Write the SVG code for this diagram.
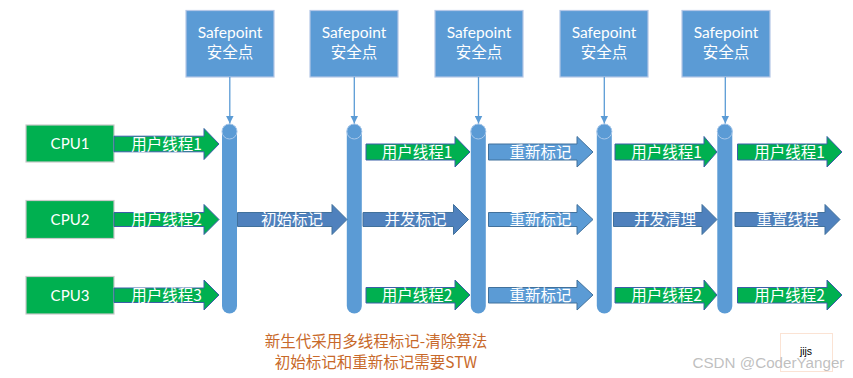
<svg xmlns="http://www.w3.org/2000/svg" width="853" height="378" viewBox="0 0 853 378">
<defs>
<style>
.sp{fill:#5B9BD5;stroke:#B4C7E7;stroke-width:1.2}
.sptxt{font-family:Lato,"Noto Sans CJK SC",sans-serif;font-size:15.5px;fill:#fff;text-anchor:middle}
.cpu{fill:#00B050;stroke:#C9C9C9;stroke-width:1.2}
.cputxt{font-family:Lato,"Noto Sans CJK SC",sans-serif;font-size:15px;fill:#fff;text-anchor:middle}
.bar{fill:#5B9BD5}
.cap{fill:#5B9BD5;stroke:#A9C8EA;stroke-width:1}
.g{fill:#00B050;stroke:#3B5FA8;stroke-width:1}
.b1{fill:#4F81BD;stroke:#41719C;stroke-width:1}
.b2{fill:#5B9BD5;stroke:#41719C;stroke-width:1}
.atxt{font-family:"Noto Sans CJK SC",Lato,sans-serif;font-size:15.5px;fill:#fff;text-anchor:middle}
.conn{stroke:#5B9BD5;stroke-width:1.3;fill:none}
.note{font-family:"Noto Sans CJK SC",Lato,sans-serif;font-size:15.5px;fill:#C8692A;text-anchor:middle}
</style>
<marker id="ah" viewBox="0 0 10 10" refX="10" refY="5" markerWidth="8" markerHeight="8" markerUnits="userSpaceOnUse" orient="auto">
<path d="M0,0 L10,5 L0,10 Z" fill="#5B9BD5"/>
</marker>
</defs>
<rect width="853" height="378" fill="#fff"/>

<g id="safepoint1"><rect class="sp" x="186" y="10.5" width="88" height="66.5"/><text class="sptxt" x="230" y="38">Safepoint</text><text class="sptxt" x="230" y="58">安全点</text></g>
<g id="safepoint2"><rect class="sp" x="310" y="10.5" width="88" height="66.5"/><text class="sptxt" x="354" y="38">Safepoint</text><text class="sptxt" x="354" y="58">安全点</text></g>
<g id="safepoint3"><rect class="sp" x="435" y="10.5" width="88" height="66.5"/><text class="sptxt" x="479" y="38">Safepoint</text><text class="sptxt" x="479" y="58">安全点</text></g>
<g id="safepoint4"><rect class="sp" x="560" y="10.5" width="88" height="66.5"/><text class="sptxt" x="604" y="38">Safepoint</text><text class="sptxt" x="604" y="58">安全点</text></g>
<g id="safepoint5"><rect class="sp" x="682" y="10.5" width="88" height="66.5"/><text class="sptxt" x="726" y="38">Safepoint</text><text class="sptxt" x="726" y="58">安全点</text></g>

<g id="cpu1"><rect class="cpu" x="26" y="125" width="88" height="37"/><text class="cputxt" x="70" y="148.5">CPU1</text></g>
<g id="cpu2"><rect class="cpu" x="26" y="200.5" width="88" height="38"/><text class="cputxt" x="70" y="224.5">CPU2</text></g>
<g id="cpu3"><rect class="cpu" x="26" y="276.5" width="88" height="37.5"/><text class="cputxt" x="70" y="300.5">CPU3</text></g>

<g id="bar1"><rect class="bar" x="222" y="124" width="15" height="189.5" rx="7.5"/><ellipse class="cap" cx="229.5" cy="131.5" rx="7.5" ry="7.5"/></g>
<g id="bar2"><rect class="bar" x="346.8" y="124" width="15" height="189.5" rx="7.5"/><ellipse class="cap" cx="354.3" cy="131.5" rx="7.5" ry="7.5"/></g>
<g id="bar3"><rect class="bar" x="470.8" y="124" width="15" height="189.5" rx="7.5"/><ellipse class="cap" cx="478.3" cy="131.5" rx="7.5" ry="7.5"/></g>
<g id="bar4"><rect class="bar" x="596.8" y="124" width="15" height="189.5" rx="7.5"/><ellipse class="cap" cx="604.3" cy="131.5" rx="7.5" ry="7.5"/></g>
<g id="bar5"><rect class="bar" x="717.3" y="124" width="15" height="189.5" rx="7.5"/><ellipse class="cap" cx="724.8" cy="131.5" rx="7.5" ry="7.5"/></g>

<g id="connectors">
<line class="conn" x1="229.8" y1="77" x2="229.8" y2="123.5" marker-end="url(#ah)"/>
<line class="conn" x1="354.3" y1="77" x2="354.3" y2="123.5" marker-end="url(#ah)"/>
<line class="conn" x1="478.5" y1="77" x2="478.5" y2="123.5" marker-end="url(#ah)"/>
<line class="conn" x1="604.3" y1="77" x2="604.3" y2="123.5" marker-end="url(#ah)"/>
<line class="conn" x1="725.3" y1="77" x2="725.3" y2="123.5" marker-end="url(#ah)"/>
</g>

<g id="flows">
<g id="r1a1"><path class="g" d="M114,136.2 H204 V128.5 L219,144 L204,159.5 V151.8 H114 Z"/><text class="atxt" x="166.5" y="149.5">用户线程1</text></g>
<g id="r1a2"><path class="g" d="M366,144 H455 V136.5 L470,152 L455,167 V160 H366 Z"/><text class="atxt" x="417" y="157.5">用户线程1</text></g>
<g id="r1a3"><path class="b2" d="M488.5,144 H577 V136.5 L593,152 L577,167 V160 H488.5 Z"/><text class="atxt" x="540.5" y="157.5">重新标记</text></g>
<g id="r1a4"><path class="g" d="M615,144 H704 V136.5 L717,152 L704,167 V160 H615 Z"/><text class="atxt" x="666.5" y="157.5">用户线程1</text></g>
<g id="r1a5"><path class="g" d="M737.5,144 H827 V136.5 L842,152 L827,167 V160 H737.5 Z"/><text class="atxt" x="789.5" y="157.5">用户线程1</text></g>
<g id="r2a1"><path class="g" d="M114,212.5 H204 V204.5 L219,219.5 L204,234.5 V226.5 H114 Z"/><text class="atxt" x="166.5" y="225">用户线程2</text></g>
<g id="r2a2"><path class="b1" d="M237.5,212.5 H332 V204.5 L347,219.5 L332,234.5 V226.5 H237.5 Z"/><text class="atxt" x="292" y="225">初始标记</text></g>
<g id="r2a3"><path class="b1" d="M363,212.5 H453.5 V204.5 L468.5,219.5 L453.5,234.5 V226.5 H363 Z"/><text class="atxt" x="415.5" y="225">并发标记</text></g>
<g id="r2a4"><path class="b2" d="M488.5,212.5 H577 V204.5 L593,219.5 L577,234.5 V226.5 H488.5 Z"/><text class="atxt" x="540.5" y="225">重新标记</text></g>
<g id="r2a5"><path class="b1" d="M613.5,212.5 H702 V204.5 L717,219.5 L702,234.5 V226.5 H613.5 Z"/><text class="atxt" x="665" y="225">并发清理</text></g>
<g id="r2a6"><path class="b1" d="M735,212.5 H825 V204.5 L840,219.5 L825,234.5 V226.5 H735 Z"/><text class="atxt" x="787.5" y="225">重置线程</text></g>
<g id="r3a1"><path class="g" d="M114,288 H204 V280 L219,295 L204,310 V302.5 H114 Z"/><text class="atxt" x="166.5" y="300.5">用户线程3</text></g>
<g id="r3a2"><path class="g" d="M366,287.5 H455 V280 L470,295 L455,310 V303 H366 Z"/><text class="atxt" x="417" y="300.5">用户线程2</text></g>
<g id="r3a3"><path class="b2" d="M488.5,287.5 H577 V280 L593,295 L577,310 V303 H488.5 Z"/><text class="atxt" x="540.5" y="300.5">重新标记</text></g>
<g id="r3a4"><path class="g" d="M615,287.5 H704 V280 L717,295 L704,310 V303 H615 Z"/><text class="atxt" x="666.5" y="300.5">用户线程2</text></g>
<g id="r3a5"><path class="g" d="M737.5,287.5 H827 V280 L842,295 L827,310 V303 H737.5 Z"/><text class="atxt" x="789.5" y="300.5">用户线程2</text></g>
</g>

<g id="note">
<text class="note" x="376" y="347">新生代采用多线程标记-清除算法</text>
<text class="note" x="376" y="368">初始标记和重新标记需要STW</text>
</g>

<g id="jijs"><rect x="780.5" y="333.5" width="52" height="38" fill="none" stroke="#FBE3D4" stroke-width="1"/><text x="806" y="354.5" font-family="'Liberation Sans',Arial,sans-serif" font-size="10.5px" fill="#000" text-anchor="middle">jijs</text></g>
<text x="692.5" y="368" font-family="'Liberation Sans',Arial,sans-serif" font-size="15.2px" fill="#B4B4B4" fill-opacity="0.85">CSDN @CoderYanger</text>
</svg>
